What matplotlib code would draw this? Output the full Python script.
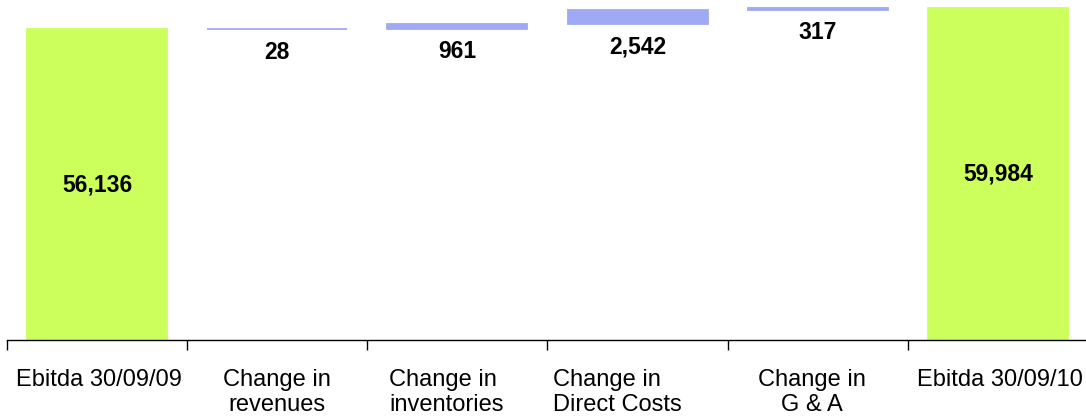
import matplotlib
matplotlib.use("Agg")
import matplotlib.pyplot as plt

plt.rcParams['font.family'] = ['Liberation Sans', 'DejaVu Sans']

# EBITDA bridge, 30/09/09 -> 30/09/10
categories = ["Ebitda 30/09/09", "Change in\nrevenues", "Change in\ninventories",
              "Change in\nDirect Costs", "Change in\nG & A", "Ebitda 30/09/10"]
start_total = 56136
changes = [28, 961, 2542, 317]
end_total = 59984
value_labels = ["56,136", "28", "961", "2,542", "317", "59,984"]

green = "#CCFF5C"
blue = "#A0AAF4"

fig = plt.figure(figsize=(10.86, 4.18), dpi=100)
ax = fig.add_axes([7 / 1086, 78 / 418, 1081 / 1086, 340 / 418])

# floating bars for the changes, full bars for the totals
heights = [start_total] + changes + [end_total]
bottoms = [0]
running = start_total
for c in changes:
    bottoms.append(running)
    running += c
bottoms.append(0)
colors = [green] + [blue] * len(changes) + [green]

x = list(range(len(categories)))
ax.bar(x, heights, bottom=bottoms, width=0.777, color=colors,
       edgecolor=colors, linewidth=1.3)

ax.set_xlim(-0.5, 5.5)
ax.set_ylim(0, 61400)

# value labels: inside the totals, under the change bars
for i, (h, b, lab) in enumerate(zip(heights, bottoms, value_labels)):
    if b == 0:
        ax.text(i, h / 2, lab, ha='center', va='center',
                fontsize=16.5, fontweight='bold')
    else:
        ax.annotate(lab, xy=(i, b), xytext=(0, -23), textcoords='offset pixels',
                    ha='center', va='center', fontsize=16.5, fontweight='bold')

# category labels below the axis
label_dx = [2, 0, -11, -20, -6, 2]
label_align = ['center', 'center', 'left', 'left', 'center', 'center']
for i, (lab, dx, ma) in enumerate(zip(categories, label_dx, label_align)):
    ax.annotate(lab, xy=(i, 0), xycoords=('data', 'axes fraction'),
                xytext=(dx, -29), textcoords='offset pixels',
                ha='center', va='top', multialignment=ma,
                fontsize=17, linespacing=1.2)

for s in ['top', 'right', 'left']:
    ax.spines[s].set_visible(False)
ax.spines['bottom'].set_linewidth(1.0)
ax.set_yticks([])
ax.set_xticks([i - 0.5 for i in range(len(categories) + 1)])
ax.set_xticklabels([])
ax.tick_params(axis='x', direction='out', length=7, width=1.0)

fig.savefig("out.png", dpi=100)
